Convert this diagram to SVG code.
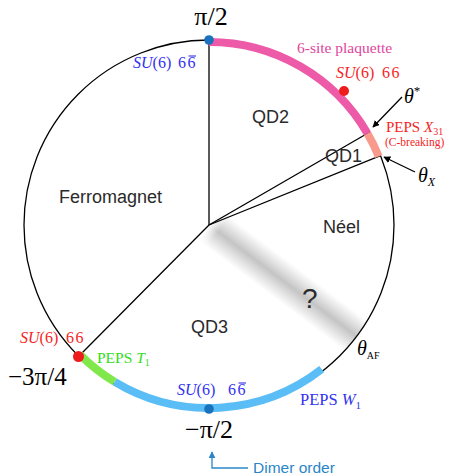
<svg xmlns="http://www.w3.org/2000/svg" width="454" height="476" viewBox="0 0 454 476">
<defs>
<style>
.serif{font-family:"Liberation Serif","DejaVu Serif",serif;}
.sans{font-family:"Liberation Sans",Arial,sans-serif;font-size:18px;fill:#2a2a2a;}
.ln{stroke:#000;stroke-width:1.3;fill:none;}
.band{fill:none;stroke-width:8;}
.bar{stroke-width:1.1;}
</style>
<linearGradient id="fog" x1="0" y1="0" x2="0" y2="1">
<stop offset="0" stop-color="#c8c8c8" stop-opacity="0"/>
<stop offset="0.5" stop-color="#c4c4c4" stop-opacity="1"/>
<stop offset="1" stop-color="#c8c8c8" stop-opacity="0"/>
</linearGradient>
<linearGradient id="fade" x1="0" y1="0" x2="1" y2="0">
<stop offset="0" stop-color="#fff" stop-opacity="0"/>
<stop offset="0.06" stop-color="#fff" stop-opacity="1"/>
</linearGradient>
<mask id="fm"><rect x="0" y="-22" width="190" height="44" fill="url(#fade)"/></mask>
<clipPath id="cc"><circle cx="209" cy="225" r="185"/></clipPath>
<marker id="ah" viewBox="0 0 10 10" refX="9" refY="5" markerWidth="7" markerHeight="7" orient="auto" markerUnits="userSpaceOnUse">
<path d="M0,0 L10,5 L0,10 z" fill="#000"/>
</marker>
<marker id="ahb" viewBox="0 0 10 10" refX="9" refY="5" markerWidth="7" markerHeight="7" orient="auto" markerUnits="userSpaceOnUse">
<path d="M0,0 L10,5 L0,10 z" fill="#2a86c8"/>
</marker>
</defs>
<rect width="454" height="476" fill="#fff"/>
<g id="fog-band" clip-path="url(#cc)">
<g transform="translate(209,225) rotate(37)">
<rect x="0" y="-19" width="190" height="38" fill="url(#fog)" mask="url(#fm)"/>
</g>
</g>
<g id="circle"><circle cx="209" cy="225" r="185" class="ln" stroke-width="1.1"/></g>
<g id="connectors">
<line x1="209" y1="225" x2="209" y2="40" class="ln"/>
<line x1="209" y1="225" x2="78" y2="357" class="ln"/>
<line x1="209" y1="225" x2="369" y2="132.5" class="ln"/>
<line x1="209" y1="225" x2="380.5" y2="155.7" class="ln"/>
<line x1="402" y1="97" x2="373" y2="127" class="ln" marker-end="url(#ah)"/>
<line x1="415" y1="172" x2="384" y2="157" class="ln" marker-end="url(#ah)"/>
<path d="M248,468 H212 V452" fill="none" stroke="#2a86c8" stroke-width="1.3" marker-end="url(#ahb)"/>
</g>
<g id="bands">
<path d="M209,42 A183,183 0 0 1 367.5,133.5" class="band" stroke="#ec5aa8"/>
<path d="M367.5,133.5 A183,183 0 0 1 378.7,156.4" class="band" stroke="#f89a8c"/>
<path d="M79.6,354.4 A183,183 0 0 0 114.7,381.9" class="band" stroke="#80e84a"/>
<path d="M114.7,381.9 A183,183 0 0 0 321.7,369.2" class="band" stroke="#5bbdf5"/>
</g>
<g id="dots">
<circle cx="209" cy="40" r="4.8" fill="#1a72bd"/>
<circle cx="209" cy="409" r="4.8" fill="#1a72bd"/>
<circle cx="78.5" cy="356.5" r="5.5" fill="#ee1c1c"/>
<circle cx="344" cy="91" r="5" fill="#ee1c1c"/>
</g>
<g id="regions">
<text class="sans" x="59" y="203">Ferromagnet</text>
<text class="sans" x="252" y="123">QD2</text>
<text class="sans" x="325" y="162">QD1</text>
<text class="sans" x="323" y="233">Néel</text>
<text class="sans" x="191" y="333">QD3</text>
<text class="sans" x="302" y="308" style="font-size:28px">?</text>
</g>
<g id="labels" class="serif">
<text x="211" y="25" text-anchor="middle" font-size="26">π/2</text>
<text x="209" y="438" text-anchor="middle" font-size="26">−π/2</text>
<text x="8" y="385" font-size="25">−3π/4</text>
<g id="su6-top" fill="#3232f0" font-size="16">
<text x="133" y="68"><tspan font-style="italic">SU</tspan>(6)</text>
<text x="178" y="68" letter-spacing="1.5">66</text>
<line x1="188.5" y1="56" x2="196" y2="56" stroke="#3232f0" class="bar"/>
</g>
<text x="297" y="53" font-size="15.5" fill="#e0459e">6-site plaquette</text>
<g id="su6-right" fill="#f52525" font-size="16">
<text x="336" y="78"><tspan font-style="italic">SU</tspan>(6)</text>
<text x="382" y="78" letter-spacing="1.5">66</text>
</g>
<text x="404" y="103" font-size="20" font-style="italic">θ<tspan dy="-8" font-size="13" font-style="normal">*</tspan></text>
<text x="386" y="132" font-size="15" fill="#f52525">PEPS <tspan font-style="italic">X</tspan><tspan dy="3" font-size="10">31</tspan></text>
<text x="385" y="146" font-size="11.5" fill="#f52525">(C-breaking)</text>
<text x="418" y="182" font-size="20" font-style="italic">θ<tspan dy="4" font-size="12">X</tspan></text>
<text x="357" y="355" font-size="20" font-style="italic">θ<tspan dy="4" font-size="10" font-style="normal">AF</tspan></text>
<g id="su6-left" fill="#f52525" font-size="16">
<text x="20" y="343"><tspan font-style="italic">SU</tspan>(6)</text>
<text x="66" y="343" letter-spacing="1.5">66</text>
</g>
<text x="97" y="363" font-size="15.5" fill="#33dd22">PEPS <tspan font-style="italic">T</tspan><tspan dy="3" font-size="10">1</tspan></text>
<g id="su6-bottom" fill="#3232f0" font-size="16">
<text x="177" y="395"><tspan font-style="italic">SU</tspan>(6)</text>
<text x="228" y="395" letter-spacing="1.5">66</text>
<line x1="238.5" y1="383" x2="246" y2="383" stroke="#3232f0" class="bar"/>
</g>
<text x="300" y="405" font-size="16.5" fill="#3232f0">PEPS <tspan font-style="italic">W</tspan><tspan dy="4" font-size="11">1</tspan></text>
</g>
<g id="dimer"><text x="253" y="473" font-family="Liberation Sans, Arial, sans-serif" font-size="15.5" fill="#2a86c8">Dimer order</text></g>
</svg>
